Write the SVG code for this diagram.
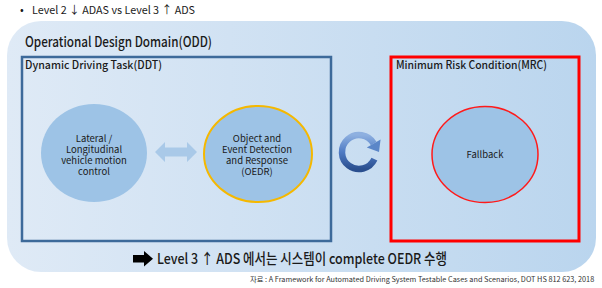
<svg xmlns="http://www.w3.org/2000/svg" width="602" height="288" viewBox="0 0 602 288">
<defs>
<linearGradient id="bg" x1="0" y1="0" x2="1" y2="0">
<stop offset="0" stop-color="#dfeaf6"/>
<stop offset="1" stop-color="#bad5ee"/>
</linearGradient>
<linearGradient id="ring" x1="0" y1="0" x2="0" y2="1">
<stop offset="0" stop-color="#8eb0e0"/>
<stop offset="0.5" stop-color="#4f7bc4"/>
<stop offset="1" stop-color="#2a4f8f"/>
</linearGradient>
<style>
text{font-family:"Noto Sans CJK KR","Noto Sans",sans-serif;fill:#1a1a1a}
.title{font-size:14px;font-weight:500}
.sub{font-size:11px;font-weight:500}
.lbl{font-size:9.5px;text-anchor:middle}
.ell{fill:#9dc3e6}
</style>
</defs>
<text x="20" y="14" style="font-size:11px">•</text>
<text x="32" y="14" style="font-size:11px" textLength="163" lengthAdjust="spacingAndGlyphs">Level 2 ↓ ADAS vs Level 3 ↑ ADS</text>
<rect x="7" y="21" width="589" height="251" rx="34" fill="url(#bg)"/>
<text class="title" x="25" y="47" textLength="187" lengthAdjust="spacingAndGlyphs">Operational Design Domain(ODD)</text>
<g id="ddt">
<rect x="22" y="57" width="309" height="184" fill="none" stroke="#3d6a9a" stroke-width="2.5"/>
<text class="sub" x="25" y="69" textLength="137" lengthAdjust="spacingAndGlyphs">Dynamic Driving Task(DDT)</text>
</g>
<g id="motion">
<ellipse class="ell" cx="94" cy="153" rx="53" ry="49"/>
<text class="lbl" x="94" y="141.5">Lateral /</text>
<text class="lbl" x="94" y="152.5">Longitudinal</text>
<text class="lbl" x="94" y="163.5">vehicle motion</text>
<text class="lbl" x="94" y="174.5">control</text>
</g>
<g id="oedr">
<ellipse class="ell" cx="258" cy="154" rx="54" ry="48" stroke="#f5b800" stroke-width="2"/>
<text class="lbl" x="257" y="141.5">Object and</text>
<text class="lbl" x="257" y="152.5">Event Detection</text>
<text class="lbl" x="257" y="163.5">and Response</text>
<text class="lbl" x="257" y="174.5">(OEDR)</text>
</g>
<g id="mrc">
<rect x="391" y="57" width="188" height="184" fill="none" stroke="#ff0000" stroke-width="3"/>
<text class="sub" x="396" y="69" textLength="151" lengthAdjust="spacingAndGlyphs">Minimum Risk Condition(MRC)</text>
</g>
<g id="fallback">
<ellipse class="ell" cx="485" cy="154.5" rx="53" ry="48" stroke="#ff1a1a" stroke-width="1.5"/>
<text class="lbl" x="485" y="158">Fallback</text>
</g>
<g id="connectors">
<polygon points="155,152 165,142 165,147.5 187,147.5 187,142 197,152 187,162 187,156.5 165,156.5 165,162" fill="#a9c9e8"/>
<path d="M374.4,159.2 A17,17 0 1 1 373.7,143.5" fill="none" stroke="url(#ring)" stroke-width="6.5"/>
<polygon points="380.6,139.5 366.8,147.5 379,152" fill="#5b86c8"/>
</g>
<g id="conclusion">
<polygon points="133,255 144,255 144,251 153,258.7 144,266.5 144,262.5 133,262.5" fill="#000"/>
<text x="157" y="264" style="font-size:14.5px;font-weight:500" textLength="290" lengthAdjust="spacingAndGlyphs">Level 3 ↑ ADS 에서는 시스템이 complete OEDR 수행</text>
</g>
<text x="250" y="282" style="font-size:7.3px;fill:#333">자료 : A Framework for Automated Driving System Testable Cases and Scenarios, DOT HS 812 623, 2018</text>
</svg>
